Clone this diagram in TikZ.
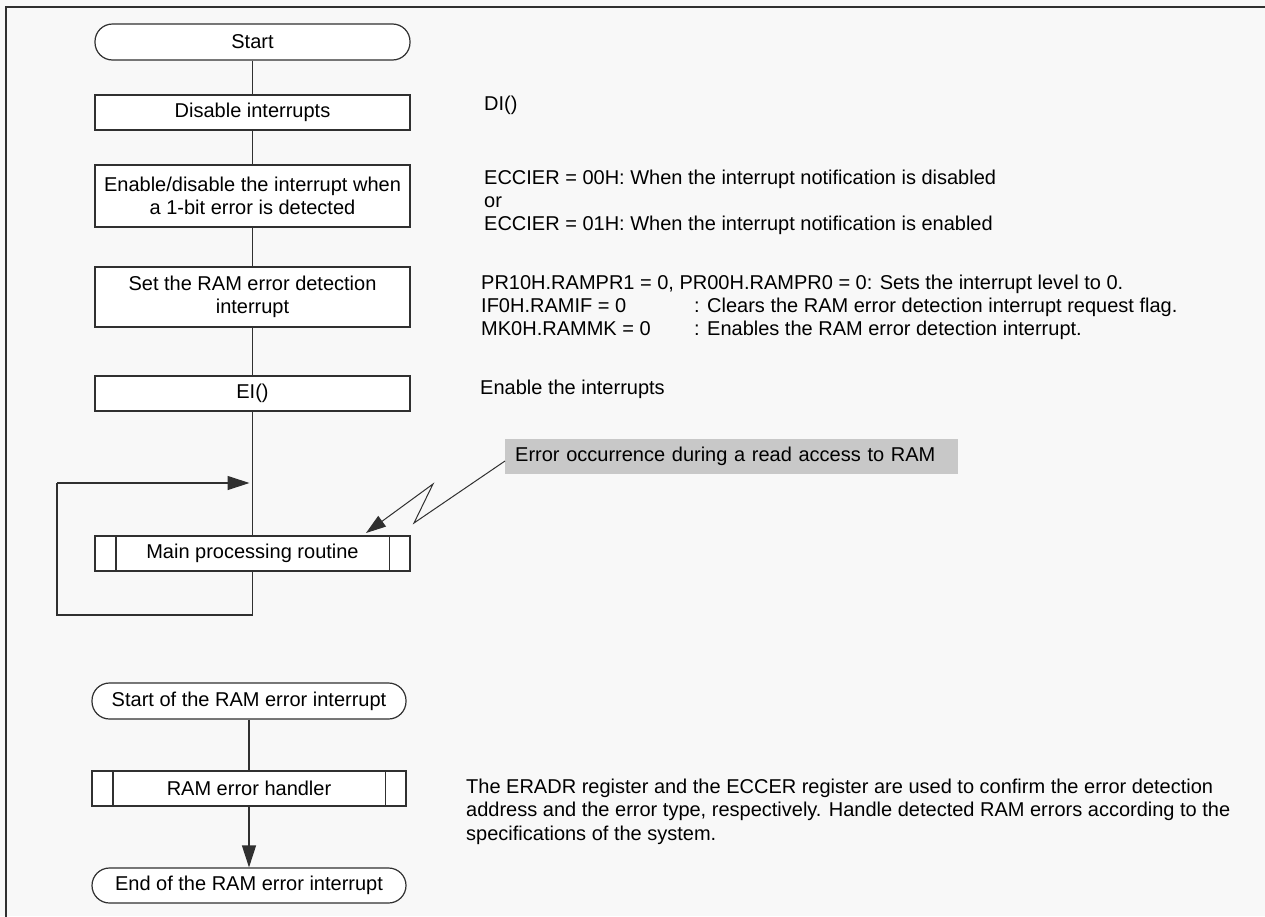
\documentclass[tikz,border=0pt]{standalone}
\usepackage{fontspec}
\setmainfont{Liberation Sans}
\usetikzlibrary{arrows.meta}
\definecolor{bg}{HTML}{F8F8F8}
\definecolor{ink}{HTML}{303030}
\definecolor{errfill}{HTML}{C8C8C8}
\begin{document}
\begin{tikzpicture}[x=1pt,y=-1pt,
  font=\fontsize{20}{23}\selectfont,
  proc/.style={draw=ink, fill=white, line width=1.2pt, minimum width=315pt,
    inner sep=0pt, align=center},
  term/.style={proc, rounded corners=17.5pt},
  flow/.style={draw=ink, line width=1.2pt},
  flowarrow/.style={-{Triangle[length=22pt,width=14pt]}},
  boltarrow/.style={-{Triangle[length=20pt,width=13pt]}},
  note/.style={anchor=base west, inner sep=0pt, align=left},
]
% page and frame
\useasboundingbox (0,0) rectangle (1265,916);
\fill[bg] (0,0) rectangle (1265,916);
\draw[ink, line width=1.8pt] (1266,7) -- (6,7) -- (6,917);

% main flow
\node[term, minimum height=36pt] (start) at (252.5,42) {Start};
\node[proc, minimum height=35pt] (dis) at (252.5,112.5) {Disable interrupts};
\node[proc, minimum height=62pt] (en) at (252.5,196) {Enable/disable the interrupt when\\a 1-bit error is detected};
\node[proc, minimum height=60pt] (set) at (252.5,297) {Set the RAM error detection\\interrupt};
\node[proc, minimum height=35pt] (ei) at (252.5,393.5) {EI()};
\node[proc, minimum height=35pt] (main) at (252.5,553.5) {Main processing routine};

\draw[flow] (start) -- (dis);
\draw[flow] (dis) -- (en);
\draw[flow] (en) -- (set);
\draw[flow] (set) -- (ei);
\draw[flow] (ei) -- (main);

% loop back from the main routine
\coordinate (lb) at (57,615);
\coordinate (lt) at (57,483);
\draw[flow] (main.south) -- (main.south |- lb) -- (lb) -- (lt);
\draw[flow, flowarrow] (lt) -- ([xshift=-3pt]ei.south |- lt);

% RAM error interrupt flow
\node[term, minimum width=314pt, minimum height=36pt] (s2) at (249,701) {Start of the RAM error interrupt};
\node[proc, minimum width=314pt, minimum height=35pt] (hdl) at (249,788.5) {RAM error handler};
\node[term, minimum width=314pt, minimum height=35pt] (e2) at (249,885.5) {End of the RAM error interrupt};
\draw[flow] (s2) -- (hdl);
\draw[flow, flowarrow] (hdl) -- (e2);

% side bars of the predefined-process boxes
\foreach \n in {main,hdl}{
  \draw[flow] ([xshift=21.5pt]\n.north west) -- ([xshift=21.5pt]\n.south west);
  \draw[flow] ([xshift=-21.5pt]\n.north east) -- ([xshift=-21.5pt]\n.south east);
}

% error event and its lightning arrow
\node[fill=errfill, anchor=west, text width=433pt, align=left, inner xsep=10pt,
  inner ysep=0pt, minimum height=35pt] (err) at (505,456.5)
  {Error occurrence during a read access to RAM};
\coordinate (z1) at (414,523);
\coordinate (z2) at (433,484);
\coordinate (hit) at (366,533);
\draw[flow, line width=1pt, boltarrow] ([yshift=-4.5pt]err.west) -- (z1) -- (z2) -- (hit);

% annotations
\node[note] (n1) at (484,110) {DI()};
\node[note] (n2) at (484,184) {ECCIER = 00H: When the interrupt notification is disabled};
\node[note] (n3) at (484,207) {or};
\node[note] (n4) at (484,230) {ECCIER = 01H: When the interrupt notification is enabled};
\node[note] (n5) at (481,289) {PR10H.RAMPR1 = 0, PR00H.RAMPR0 = 0: Sets the interrupt level to 0.};
\node[note] (n6) at (481,312) {IF0H.RAMIF = 0};
\node[note] (n6b) at (694,312) {: Clears the RAM error detection interrupt request flag.};
\node[note] (n7) at (481,335) {MK0H.RAMMK = 0};
\node[note] (n7b) at (694,335) {: Enables the RAM error detection interrupt.};
\node[note] (n8) at (480,394) {Enable the interrupts};
\node[note] (n9) at (466,793) {The ERADR register and the ECCER register are used to confirm the error detection};
\node[note] (n10) at (466,816) {address and the error type, respectively. Handle detected RAM errors according to the};
\node[note] (n11) at (466,840) {specifications of the system.};
\end{tikzpicture}
\end{document}
